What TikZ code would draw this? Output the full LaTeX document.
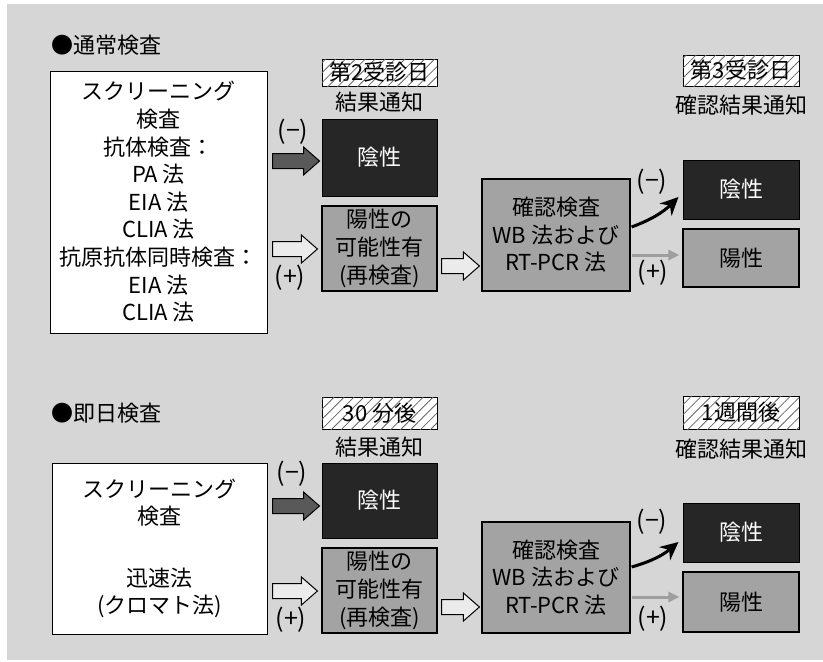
\documentclass[tikz,border=0pt]{standalone}
\usepackage{fontspec}
\setmainfont{Noto Sans CJK JP}
\usetikzlibrary{calc,patterns.meta,arrows.meta}

\newcommand\fatarw[3]{%
  \draw[#1] let \p1=(#2), \p2=(#3) in
    (\x1,\y1+7.5pt) -- (\x2-16pt,\y1+7.5pt) -- (\x2-16pt,\y1+14pt) -- (\x2,\y1)
    -- (\x2-16pt,\y1-14pt) -- (\x2-16pt,\y1-7.5pt) -- (\x1,\y1-7.5pt) -- cycle;}

\tikzset{
  every node/.style={font=\fontsize{22}{27.6}\selectfont, inner sep=0pt},
  whitebox/.style={draw=black, line width=1pt, fill=white, align=center},
  darkbox/.style={draw=black, line width=1pt, fill=black!85, text=white, align=center},
  graybox/.style={draw=black, line width=1.2pt, fill=black!36, align=center},
  datebox/.style={draw=black, line width=1pt, fill=white,
    postaction={pattern={Lines[angle=45,distance=7pt,line width=0.8pt]}, pattern color=black!60}},
  signlbl/.style={font=\fontsize{25}{25}\selectfont},
  hdr/.style={anchor=west},
  darkarw/.style={draw=black, line width=1pt, fill=black!65},
  lightarw/.style={draw=black, line width=1pt, fill=black!8},
  blackarw/.style={draw=black, line width=3pt, -{Stealth[length=18pt,width=17pt]}},
  grayarw/.style={draw=black!38, line width=3pt, -{Triangle[length=11pt,width=10pt]}}
}

\begin{document}
\begin{tikzpicture}[x=1pt,y=-1pt]
\useasboundingbox (0,0) rectangle (823,662);
\fill[white] (0,0) rectangle (823,662);
\fill[black!16] (7,4) rectangle (823,660);

% ---------- top: 通常検査 ----------
\node[hdr] (hdr1) at (51,45) {●通常検査};
\node[whitebox, minimum width=217pt, minimum height=262pt] (scr1) at (158.5,202)
  {スクリーニング\\検査\\抗体検査：\\PA 法\\EIA 法\\CLIA 法\\抗原抗体同時検査：\\EIA 法\\CLIA 法};
\node[datebox, minimum width=115pt, minimum height=27pt] (date2) at (379.5,72.5) {第2受診日};
\node (note2) at (379.5,102) {結果通知};
\node[darkbox, minimum width=115pt, minimum height=77pt] (neg1) at (379.5,157.5) {陰性};
\node[graybox, minimum width=115pt, minimum height=85pt] (pos1) at (379.5,248.5)
  {陽性の\\可能性有\\(再検査)};
\node[graybox, minimum width=148pt, minimum height=112pt] (conf1) at (556,235)
  {確認検査\\WB 法および\\RT-PCR 法};
\node[datebox, minimum width=116pt, minimum height=31pt] (date3) at (741,70.5) {第3受診日};
\node (note3) at (741,105) {確認結果通知};
\node[darkbox, minimum width=116pt, minimum height=59pt] (rneg1) at (741,189.5) {陰性};
\node[graybox, minimum width=116pt, minimum height=58pt] (rpos1) at (741,258) {陽性};
\node[signlbl] (m1) at (293,132) {(−)};
\node[signlbl] (p1) at (290,278) {(+)};
\node[signlbl] (rm1) at (652,182) {(−)};
\node[signlbl] (rp1) at (653,273) {(+)};

\fatarw{darkarw}{$(neg1.west -| scr1.east)+(5,3.5)$}{$(neg1.west)+(-2,0)$}
\fatarw{lightarw}{$(pos1.west -| scr1.east)+(5,0.5)$}{$(pos1.west)+(-4,0)$}
\fatarw{lightarw}{$(pos1.east)+(4,17.5)$}{$(conf1.west)+(-2,0)$}
\draw[blackarw] ($(conf1.east)+(1,-8)$) to[bend right=12] ($(rneg1.west)+(-4,7.5)$);
\draw[grayarw] ($(rpos1.west -| conf1.east)+(1,-3)$) -- ($(rpos1.west)+(-3,-3)$);

% ---------- bottom: 即日検査 ----------
\node[hdr] (hdr2) at (51,413) {●即日検査};
\node[whitebox, minimum width=215pt, minimum height=171pt] (scr2) at (159.5,548.5)
  {スクリーニング\\検査\\[6pt]\\迅速法\\(クロマト法)};
\node[datebox, minimum width=115pt, minimum height=32pt] (date30) at (379.5,413) {30 分後};
\node (note30) at (379.5,447) {結果通知};
\node[darkbox, minimum width=115pt, minimum height=75pt] (neg2) at (379.5,500.5) {陰性};
\node[graybox, minimum width=115pt, minimum height=85pt] (pos2) at (379.5,590.5)
  {陽性の\\可能性有\\(再検査)};
\node[graybox, minimum width=148pt, minimum height=111pt] (conf2) at (556,577.5)
  {確認検査\\WB 法および\\RT-PCR 法};
\node[datebox, minimum width=116pt, minimum height=33pt] (date1w) at (741,412.5) {1週間後};
\node (note1w) at (741,449) {確認結果通知};
\node[darkbox, minimum width=116pt, minimum height=59pt] (rneg2) at (741,532.5) {陰性};
\node[graybox, minimum width=116pt, minimum height=60pt] (rpos2) at (741,602) {陽性};
\node[signlbl] (m2) at (292,474) {(−)};
\node[signlbl] (p2) at (291,620) {(+)};
\node[signlbl] (rm2) at (652,522) {(−)};
\node[signlbl] (rp2) at (653,619) {(+)};

\fatarw{darkarw}{$(neg2.west -| scr2.east)+(5,5.5)$}{$(neg2.west)+(-2,0)$}
\fatarw{lightarw}{$(pos2.west -| scr2.east)+(5,0.5)$}{$(pos2.west)+(-4,0)$}
\fatarw{lightarw}{$(pos2.east)+(4,16.5)$}{$(conf2.west)+(-2,0)$}
\draw[blackarw] ($(conf2.east)+(1,-10.5)$) to[bend right=12] ($(rneg2.west)+(-4,9.5)$);
\draw[grayarw] ($(rpos2.west -| conf2.east)+(1,-5)$) -- ($(rpos2.west)+(-3,-5)$);
\end{tikzpicture}
\end{document}
